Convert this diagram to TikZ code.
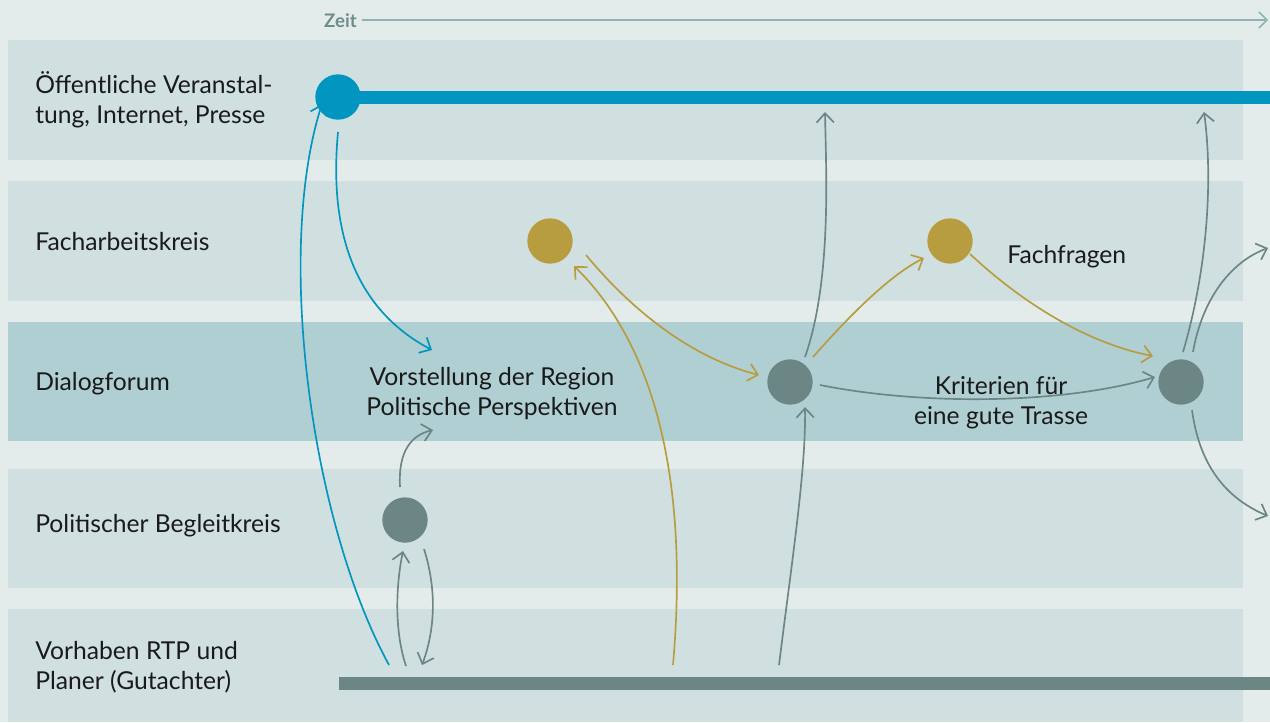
\documentclass[tikz,border=0pt]{standalone}
\usepackage{fontspec}
\setmainfont{Lato}
\usetikzlibrary{arrows.meta}
\definecolor{bg}{HTML}{E3ECEB}
\definecolor{lane}{HTML}{D0E0E0}
\definecolor{lanedark}{HTML}{B0CFD2}
\definecolor{cblue}{HTML}{0096C0}
\definecolor{cgold}{HTML}{B89C40}
\definecolor{cgray}{HTML}{6C8585}
\definecolor{ctime}{HTML}{8FB3B5}
\definecolor{ctimetext}{HTML}{6F8D8E}
\definecolor{ctext}{HTML}{1A1A1A}
\tikzset{
  lanebox/.style={fill=lane, draw=none},
  dot/.style={circle, minimum size=34pt, inner sep=0pt, draw=none},
  bluedot/.style={dot, fill=cblue},
  golddot/.style={dot, fill=cgold},
  graydot/.style={dot, fill=cgray},
  lbl/.style={font=\fontsize{18.5}{22.5}\selectfont, text=ctext, align=left, anchor=west, inner sep=0pt},
  clbl/.style={font=\fontsize{18.5}{22.5}\selectfont, text=ctext, align=center, inner sep=0pt},
  con/.style={line width=1.25pt, -{Straight Barb[length=7pt,width=13pt,line width=1.25pt]}},
  bluecon/.style={con, draw=cblue},
  goldcon/.style={con, draw=cgold},
  graycon/.style={con, draw=cgray},
}
\begin{document}
\begin{tikzpicture}[x=0.75pt,y=-0.75pt]
\fill[bg] (0,0) rectangle (1270,722);
\useasboundingbox (0,0) rectangle (1270,722);
% lanes
\fill[lane] (8,40) rectangle (1243,160);
\fill[lane] (8,181) rectangle (1243,301);
\fill[lanedark] (8,322) rectangle (1243,441);
\fill[lane] (8,469) rectangle (1243,588);
\fill[lane] (8,609) rectangle (1243,722);
% time axis
\node[font=\bfseries\fontsize{14}{16}\selectfont, text=ctimetext, anchor=east, inner sep=0pt] (zeit) at (357,21) {Zeit};
\coordinate (zeitend) at (1268,20);
\draw[ctime, line width=1.1pt, -{Straight Barb[length=6pt,width=12pt,line width=1.1pt]}] ([xshift=4pt]zeit.east |- zeitend) -- (zeitend);
% lane labels
\node[lbl] (l1) at (35,100) {Öffentliche Veranstal-\\tung, Internet, Presse};
\node[lbl] (l2) at (35,242) {Facharbeitskreis};
\node[lbl] (l3) at (35,384) {Dialogforum};
\node[lbl] (l4) at (35,526) {Politischer Begleitkreis};
\node[lbl] (l5) at (35,667) {Vorhaben RTP und\\Planer (Gutachter)};
% bars
\coordinate (pubend) at (1270,97);
\coordinate (barstart) at (339,683);
\coordinate (barend) at (1270,683);
\draw[cblue, line width=9.75pt] (338,97) -- (pubend);
\draw[cgray, line width=9.75pt] (barstart) -- (barend);
% dots
\node[bluedot] (pub) at (338,97) {};
\node[golddot] (fa1) at (550,241) {};
\node[golddot] (fa2) at (950,241) {};
\node[graydot] (df1) at (790,382) {};
\node[graydot] (df2) at (1181,382) {};
\node[graydot] (pb) at (405,520) {};
% texts
\node[clbl] (vr) at (492,394) {Vorstellung der Region\\Politische Perspektiven};
\node[clbl] (kr) at (1001,403) {Kriterien für\\eine gute Trasse};
\node[lbl] (ff) at (1007,257) {Fachfragen};
% coordinates for free ends
\coordinate (b1) at (389,665);
\coordinate (b2) at (406,666);
\coordinate (b3) at (422,665);
\coordinate (b4) at (673,665);
\coordinate (b5) at (779,665);
\coordinate (dfin) at (432,350);
\coordinate (dfin2) at (433,430);
\coordinate (pubtop1) at (825,112);
\coordinate (pubtop2) at (1204,112);
\coordinate (out1) at (1268,248);
\coordinate (out2) at (1268,516);
% connectors
\draw[bluecon] (b1) .. controls (310,520) and (275,250) .. (322,104);
\draw[bluecon] (338,132) .. controls (326,260) and (375,320) .. (dfin);
\draw[graycon] (400,487) .. controls (398,450) and (412,435) .. (dfin2);
\draw[graycon] (b2) .. controls (394,630) and (396,585) .. (403,551);
\draw[graycon] (424,549) .. controls (437,590) and (435,630) .. (b3);
\draw[goldcon] (b4) .. controls (690,470) and (650,340) .. (574,266);
\draw[goldcon] (586,255) .. controls (640,320) and (700,360) .. (759,375);
\draw[graycon] (b5) .. controls (792,560) and (806,470) .. (805,407);
\draw[graycon] (805,357) .. controls (832,280) and (826,170) .. (pubtop1);
\draw[goldcon] (813,357) .. controls (850,315) and (890,275) .. (924,258);
\draw[graycon] (820,385) .. controls (920,405) and (1060,405) .. (1155,377);
\draw[goldcon] (970,254) .. controls (1030,310) and (1095,345) .. (1153,356);
\draw[graycon] (1183,352) .. controls (1210,260) and (1212,170) .. (pubtop2);
\draw[graycon] (1193,352) .. controls (1202,300) and (1230,262) .. (out1);
\draw[graycon] (1192,410) .. controls (1200,470) and (1230,500) .. (out2);
\end{tikzpicture}
\end{document}
